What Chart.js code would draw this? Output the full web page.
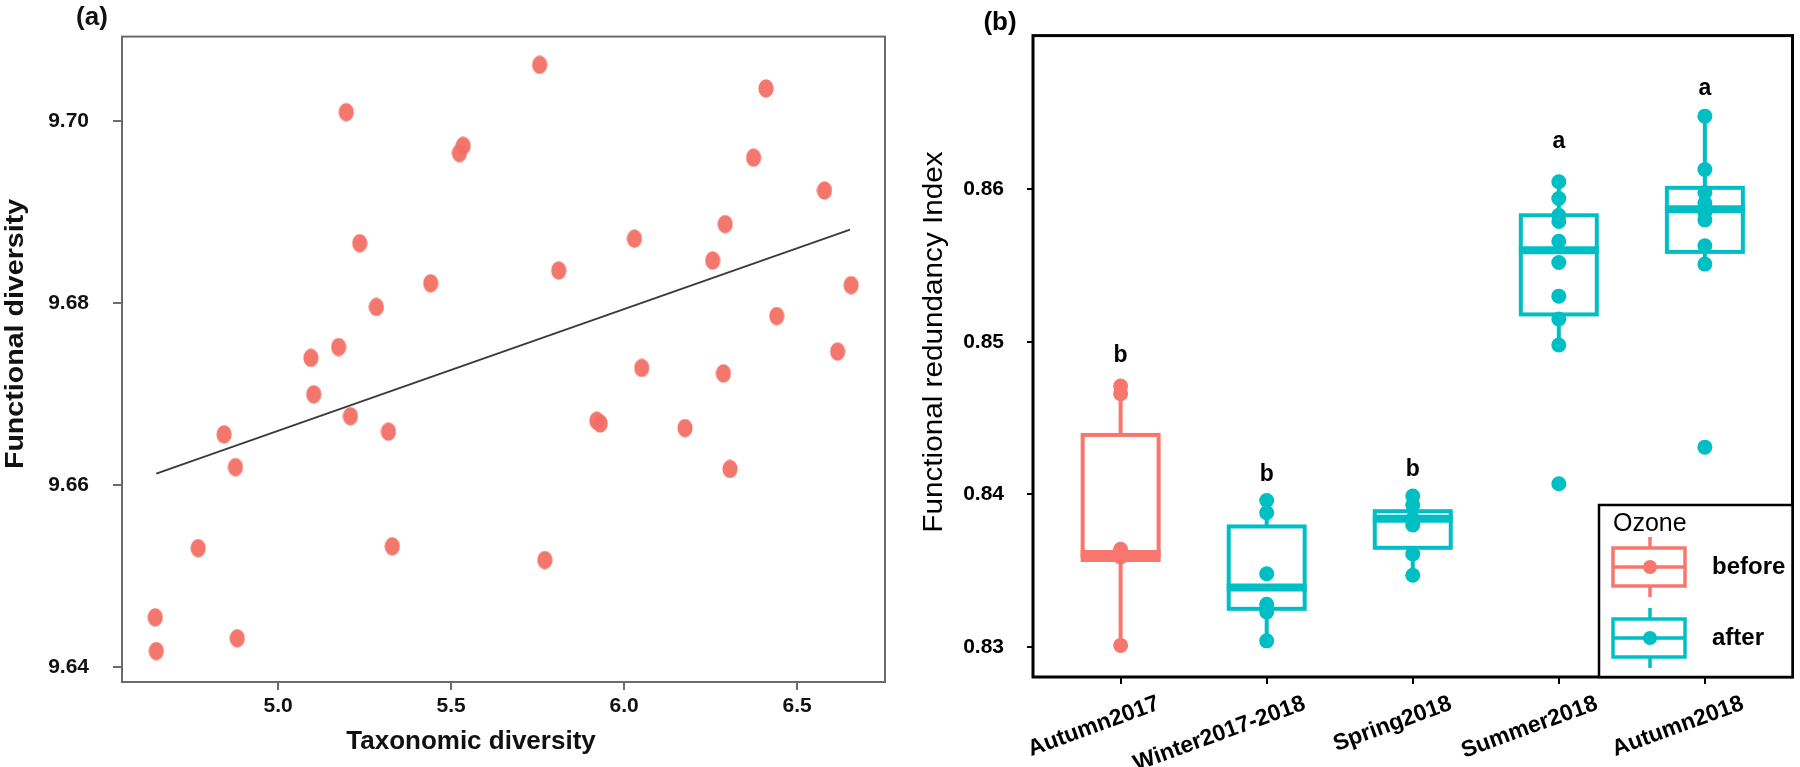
<!DOCTYPE html>
<html>
<head>
<meta charset="utf-8">
<script src="https://cdn.jsdelivr.net/npm/chart.js@4.4.0/dist/chart.umd.min.js"></script>
<style>
  body { margin: 0; background: #fff; width: 1800px; height: 767px; overflow: hidden; }
  .panel { position: absolute; top: 0; width: 900px; height: 767px; }
</style>
</head>
<body>
<div class="panel" style="left:0"><canvas id="chartA" width="900" height="767"></canvas></div>
<div class="panel" style="left:900px"><canvas id="chartB" width="900" height="767"></canvas></div>
<script>
// ---- panel (a): taxonomic vs functional diversity ----
const taxonomicDiversity = [5.756, 5.197, 5.535, 5.524, 5.236, 5.811, 5.441, 5.284, 5.175, 5.095, 5.103, 5.209,
  4.844, 5.319, 4.877, 4.769, 5.330, 5.771, 4.645, 4.648, 4.882, 6.410, 6.374, 6.579,
  6.292, 6.030, 6.256, 6.656, 6.441, 6.617, 6.051, 6.287, 5.931, 5.921, 6.176, 6.306];
const functionalDiversity = [9.7062, 9.7010, 9.6973, 9.6965, 9.6866, 9.6836, 9.6822, 9.6796, 9.6752, 9.6740, 9.6700, 9.6676,
  9.6656, 9.6659, 9.6620, 9.6531, 9.6533, 9.6518, 9.6455, 9.6418, 9.6432, 9.7036, 9.6960, 9.6924,
  9.6887, 9.6871, 9.6847, 9.6820, 9.6786, 9.6747, 9.6729, 9.6723, 9.6668, 9.6671, 9.6663, 9.6618];
const fitX = [4.648, 6.653];
const fitY = [9.6613, 9.6881];
const xTicksA = [5.0, 5.5, 6.0, 6.5];
const yTicksA = [9.64, 9.66, 9.68, 9.70];

// ---- panel (b): functional redundancy by season ----
const seasons = ["Autumn2017", "Winter2017-2018", "Spring2018", "Summer2018", "Autumn2018"];
const ozone = ["before", "after", "after", "after", "after"];
const pointsAutumn2017 = [0.8471, 0.8466, 0.8364, 0.8362, 0.8359, 0.8301];
const pointsWinter2017 = [0.8396, 0.8388, 0.8348, 0.8328, 0.8323, 0.8304];
const pointsSpring2018 = [0.8399, 0.8393, 0.8384, 0.8380, 0.8361, 0.8347];
const pointsSummer2018 = [0.8605, 0.8594, 0.8583, 0.8579, 0.8566, 0.8552, 0.8530, 0.8515, 0.8498, 0.8407];
const pointsAutumn2018 = [0.8648, 0.8613, 0.8598, 0.8591, 0.8585, 0.8580, 0.8563, 0.8551, 0.8431];
const whiskerLow = [0.8301, 0.8304, 0.8347, 0.8498, 0.8551];
const boxQ1 = [0.8357, 0.8325, 0.8365, 0.8518, 0.8559];
const boxMedian = [0.8361, 0.8339, 0.8384, 0.8560, 0.8587];
const boxQ3 = [0.8439, 0.8379, 0.8389, 0.8583, 0.8601];
const whiskerHigh = [0.8471, 0.8396, 0.8399, 0.8605, 0.8648];
const letters = ["b", "b", "b", "a", "a"];
const letterY = [0.8491, 0.8413, 0.8416, 0.8631, 0.8666];
const yTicksB = [0.83, 0.84, 0.85, 0.86];

const FONT = "'Liberation Sans', Arial, sans-serif";
const RED = "#F8766D";
const TEAL = "#00BFC4";
const groupColor = { before: RED, after: TEAL };

// slightly tall dot like the original figure
const dotA = document.createElement("canvas");
dotA.width = 16; dotA.height = 19;
(function () {
  const c = dotA.getContext("2d");
  c.fillStyle = "rgba(243,112,102,0.95)";
  c.beginPath();
  c.ellipse(8, 9.5, 7.6, 9.2, 0, 0, Math.PI * 2);
  c.fill();
})();

// rotated axis title, a bit stretched along its length like the source image
function verticalTitle(ctx, text, font, x, y, stretch) {
  ctx.save();
  ctx.translate(x, y);
  ctx.rotate(-Math.PI / 2);
  ctx.scale(stretch, 1);
  ctx.font = font;
  ctx.textAlign = "center";
  ctx.textBaseline = "middle";
  ctx.fillText(text, 0, 0);
  ctx.restore();
}

const frameA = {
  id: "frameA",
  afterDatasetsDraw(chart) {
    const { ctx, chartArea: a } = chart;
    ctx.save();
    ctx.strokeStyle = "#6b6b6b";
    ctx.lineWidth = 2;
    ctx.strokeRect(a.left, a.top, a.right - a.left, a.bottom - a.top);
    ctx.fillStyle = "#111";
    ctx.textAlign = "center";
    ctx.textBaseline = "middle";
    ctx.font = "bold 26px " + FONT;
    ctx.fillText("(a)", 92, 18);
    ctx.fillText("Taxonomic diversity", 471, 742);
    verticalTitle(ctx, "Functional diversity", "bold 26px " + FONT, 16, 334, 1.1);
    ctx.restore();
  }
};

new Chart(document.getElementById("chartA"), {
  type: "scatter",
  data: {
    datasets: [
      {
        type: "line",
        data: fitX.map((v, i) => ({ x: v, y: fitY[i] })),
        borderColor: "#3a3a3a",
        borderWidth: 1.8,
        pointRadius: 0,
        order: 0
      },
      {
        data: taxonomicDiversity.map((v, i) => ({ x: v, y: functionalDiversity[i] })),
        pointStyle: dotA,
        pointRadius: 8,
        order: 1
      }
    ]
  },
  options: {
    responsive: false,
    animation: false,
    devicePixelRatio: 1,
    layout: { padding: { top: 21, right: 15, left: 0, bottom: 0 } },
    plugins: { legend: { display: false }, tooltip: { enabled: false } },
    scales: {
      x: {
        type: "linear", min: 4.549, max: 6.754,
        afterBuildTicks: (s) => { s.ticks = xTicksA.map((v) => ({ value: v })); },
        afterFit: (s) => { s.height = 85; },
        border: { display: false },
        grid: { drawOnChartArea: false, tickLength: 8, color: "#6b6b6b", lineWidth: 2 },
        ticks: { font: { family: FONT, size: 21, weight: "bold" }, color: "#111", padding: 4,
          callback: (v) => Number(v).toFixed(1) }
      },
      y: {
        min: 9.6384, max: 9.7093,
        afterBuildTicks: (s) => { s.ticks = yTicksA.map((v) => ({ value: v })); },
        afterFit: (s) => { s.width = 122; },
        border: { display: false },
        grid: { drawOnChartArea: false, tickLength: 9, color: "#6b6b6b", lineWidth: 2 },
        ticks: { font: { family: FONT, size: 21, weight: "bold" }, color: "#111", padding: 24,
          callback: (v) => Number(v).toFixed(2) }
      }
    }
  },
  plugins: [frameA]
});

// ---- panel (b) ----
const pointsBySeason = [pointsAutumn2017, pointsWinter2017, pointsSpring2018, pointsSummer2018, pointsAutumn2018];
const boxHalf = 0.26;

const boxPlugin = {
  id: "boxes",
  beforeDatasetsDraw(chart) {
    const { ctx, scales: { x, y } } = chart;
    ctx.save();
    seasons.forEach((s, i) => {
      const col = groupColor[ozone[i]];
      const xc = x.getPixelForValue(i);
      const xl = x.getPixelForValue(i - boxHalf);
      const xr = x.getPixelForValue(i + boxHalf);
      const yq1 = y.getPixelForValue(boxQ1[i]);
      const yq3 = y.getPixelForValue(boxQ3[i]);
      ctx.strokeStyle = col;
      ctx.lineWidth = 4;
      ctx.beginPath();
      ctx.moveTo(xc, y.getPixelForValue(whiskerHigh[i])); ctx.lineTo(xc, yq3);
      ctx.moveTo(xc, yq1); ctx.lineTo(xc, y.getPixelForValue(whiskerLow[i]));
      ctx.stroke();
      ctx.fillStyle = "#fff";
      ctx.fillRect(xl, yq3, xr - xl, yq1 - yq3);
      ctx.strokeRect(xl, yq3, xr - xl, yq1 - yq3);
      ctx.lineWidth = 8;
      ctx.beginPath();
      const ym = y.getPixelForValue(boxMedian[i]);
      ctx.moveTo(xl - 2, ym); ctx.lineTo(xr + 2, ym);
      ctx.stroke();
    });
    ctx.restore();
  },
  afterDatasetsDraw(chart) {
    const { ctx, chartArea: a, scales: { x, y } } = chart;
    ctx.save();
    ctx.strokeStyle = "#000";
    ctx.lineWidth = 3;
    ctx.strokeRect(a.left, a.top, a.right - a.left, a.bottom - a.top);
    ctx.fillStyle = "#000";
    ctx.textAlign = "center";
    ctx.textBaseline = "middle";
    ctx.font = "bold 26px " + FONT;
    ctx.fillText("(b)", 100, 23);
    ctx.font = "bold 23px " + FONT;
    letters.forEach((l, i) => ctx.fillText(l, x.getPixelForValue(i), y.getPixelForValue(letterY[i])));
    verticalTitle(ctx, "Functional redundancy Index", "27px " + FONT, 35, 342, 1.1);

    // legend box
    const lx = 699, ly = 505, lw = a.right - lx, lh = a.bottom - ly;
    ctx.fillStyle = "#fff";
    ctx.fillRect(lx, ly, lw, lh);
    ctx.lineWidth = 2.5;
    ctx.strokeRect(lx, ly, lw, lh);
    ctx.fillStyle = "#000";
    ctx.textAlign = "left";
    ctx.font = "25px " + FONT;
    ctx.fillText("Ozone", 713, 524);
    const keys = [["before", RED, 567], ["after", TEAL, 638]];
    keys.forEach(([label, col, cy]) => {
      ctx.strokeStyle = col;
      ctx.fillStyle = col;
      ctx.lineWidth = 3.5;
      ctx.beginPath();
      ctx.moveTo(750, cy - 30); ctx.lineTo(750, cy - 19);
      ctx.moveTo(750, cy + 19); ctx.lineTo(750, cy + 30);
      ctx.moveTo(713, cy); ctx.lineTo(785, cy);
      ctx.stroke();
      ctx.strokeRect(713, cy - 19, 72, 38);
      ctx.beginPath();
      ctx.arc(750, cy, 7, 0, Math.PI * 2);
      ctx.fill();
      ctx.fillStyle = "#000";
      ctx.font = "bold 24px " + FONT;
      ctx.fillText(label, 812, cy);
    });
    ctx.restore();
  }
};

const groupData = (g) => pointsBySeason.flatMap((pts, i) =>
  ozone[i] === g ? pts.map((v) => ({ x: i, y: v })) : []);

new Chart(document.getElementById("chartB"), {
  type: "scatter",
  data: {
    datasets: [
      { label: "before", data: groupData("before"), backgroundColor: RED, borderWidth: 0, pointRadius: 7.5 },
      { label: "after", data: groupData("after"), backgroundColor: TEAL, borderWidth: 0, pointRadius: 7.5 }
    ]
  },
  options: {
    responsive: false,
    animation: false,
    devicePixelRatio: 1,
    layout: { padding: { top: 14, right: 7, left: 0, bottom: 0 } },
    plugins: { legend: { display: false }, tooltip: { enabled: false } },
    scales: {
      x: {
        type: "linear", min: -0.6, max: 4.6,
        afterBuildTicks: (s) => { s.ticks = seasons.map((c, i) => ({ value: i })); },
        afterFit: (s) => { s.height = 90; },
        border: { display: false },
        grid: { drawOnChartArea: false, tickLength: 7, color: "#000", lineWidth: 2 },
        ticks: { font: { family: FONT, size: 23, weight: "bold" }, color: "#000", padding: 6,
          minRotation: 20, maxRotation: 20, autoSkip: false, labelOffset: 38,
          callback: (v) => seasons[v] }
      },
      y: {
        min: 0.82803, max: 0.87008,
        afterBuildTicks: (s) => { s.ticks = yTicksB.map((v) => ({ value: v })); },
        afterFit: (s) => { s.width = 133; },
        border: { display: false },
        grid: { drawOnChartArea: false, tickLength: 6, color: "#000", lineWidth: 2 },
        ticks: { font: { family: FONT, size: 21, weight: "bold" }, color: "#000", padding: 23,
          callback: (v) => Number(v).toFixed(2) }
      }
    }
  },
  plugins: [boxPlugin]
});
</script>
</body>
</html>
